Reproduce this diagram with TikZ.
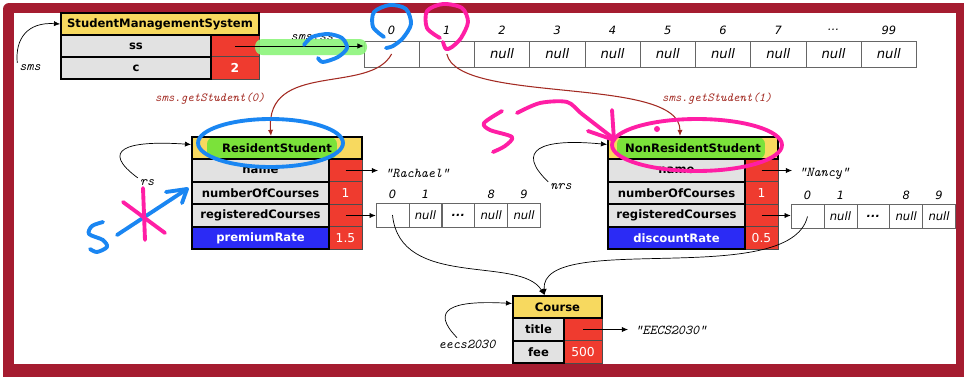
\documentclass[tikz,border=0pt]{standalone}
\usepackage{fontspec}
\setmainfont{DejaVu Sans}
\usetikzlibrary{arrows.meta}

\definecolor{framered}{HTML}{A51C30}
\definecolor{hdryellow}{HTML}{F7D95F}
\definecolor{keygrey}{HTML}{E2E2E2}
\definecolor{valred}{HTML}{EF3B2F}
\definecolor{rateblue}{HTML}{2B2BF5}
\definecolor{refred}{HTML}{A32A22}
\definecolor{penblue}{HTML}{1A86F2}
\definecolor{penpink}{HTML}{FF1EA5}
\definecolor{hlgreen}{HTML}{7BE23A}
\definecolor{ssgreen}{HTML}{8CF57A}

\newcommand\hdrfont{\fontsize{6.6}{8}\selectfont\bfseries}
\newcommand\valfont{\fontsize{7}{8}\selectfont}
\newcommand\varfont{\fontsize{7.7}{9}\selectfont\ttfamily\itshape}
\newcommand\getfont{\fontsize{7}{8}\selectfont\ttfamily\itshape}

\tikzset{
  hdr/.style={draw, line width=1.1pt, fill=hdryellow, font=\hdrfont, inner sep=0pt, minimum height=0.44cm},
  key/.style={draw, line width=1.1pt, fill=keygrey, font=\hdrfont, inner sep=0pt, minimum height=0.45cm},
  val/.style={draw=black!70, line width=0.3pt, fill=valred, text=white, font=\valfont, inner sep=0pt, minimum height=0.45cm},
  cell/.style={draw=black!60, line width=0.4pt, fill=white, inner sep=0pt, font=\fontsize{7.5}{9}\selectfont\itshape},
  smallcell/.style={cell, minimum width=0.658cm, minimum height=0.48cm, font=\fontsize{6.6}{8}\selectfont\itshape},
  idx/.style={font=\fontsize{6.5}{8}\selectfont\itshape, inner sep=0pt},
  var/.style={font=\varfont, inner sep=1pt},
  ptr/.style={-{Latex[length=3.5pt,width=3pt]}, line width=0.4pt},
  getref/.style={ptr, draw=refred, line width=0.6pt},
  pen/.style={line width=2.2pt, line cap=round, line join=round},
}

\begin{document}
\begin{tikzpicture}[x=0.02cm, y=-0.02cm]
  \useasboundingbox (0,0) rectangle (964,376);
  \fill[framered, rounded corners=0.12cm] (3,3) rectangle (972,384);
  \fill[white] (14,13) rectangle (956,364);

  % sms object
  \node[val, minimum width=0.96cm] (sms-ss-v) at (235,46) {};
  \node[val, minimum width=0.96cm, font=\valfont\bfseries] (sms-c-v) at (235,68) {2};
  \node[key, minimum width=3cm] (sms-ss) at (136,46) {ss};
  \node[key, minimum width=3cm] (sms-c) at (136,68) {c};
  \node[hdr, minimum width=3.96cm] (sms-hdr) at (160,24) {StudentManagementSystem};

  % array of students
  \foreach \i/\lab/\txt in {0/0/,1/1/,2/2/null,3/3/null,4/4/null,5/5/null,6/6/null,7/7/null,8/\ldots/null,9/99/null}{
    \node[cell, minimum width=1.105cm, minimum height=0.52cm] (arr\i) at ({391.6+55.25*\i},54) {\txt};
    \node[idx] (arr\i-i) at ({391.6+55.25*\i},30) {\lab};
  }

  % student objects
  \foreach \ox/\o/\cls/\rate/\rv/\gl/\gr in {192/rs/ResidentStudent/premiumRate/1.5/0.3/0.5,608/nrs/NonResidentStudent/discountRate/0.5/0.18/0.26}{
    \node[val, minimum width=0.66cm] (\o-name-v) at ({\ox+153.5},170.5) {};
    \node[val, minimum width=0.66cm] (\o-num-v) at ({\ox+153.5},193) {1};
    \node[val, minimum width=0.66cm] (\o-reg-v) at ({\ox+153.5},215.5) {};
    \node[val, minimum width=0.66cm] (\o-rate-v) at ({\ox+153.5},238) {\rv};
    \node[key, minimum width=2.74cm] (\o-name) at ({\ox+68.5},170.5) {name};
    \node[key, minimum width=2.74cm] (\o-num) at ({\ox+68.5},193) {numberOfCourses};
    \node[key, minimum width=2.74cm] (\o-reg) at ({\ox+68.5},215.5) {registeredCourses};
    \node[key, minimum width=2.74cm, fill=rateblue, text=white] (\o-rate) at ({\ox+68.5},238) {\rate};
    \node[hdr, minimum width=3.4cm, path picture={
      \fill[hlgreen, rounded corners=4pt] ([xshift=\gl cm]path picture bounding box.south west)
        rectangle ([xshift=-\gr cm]path picture bounding box.north east);}] (\o-hdr) at ({\ox+85},148) {\cls};
  }

  % course arrays
  \foreach \i/\lab/\txt in {0/0/,1/1/null,2//\textbf{...},3/8/null,4/9/null}{
    \node[smallcell] (rsa\i) at ({392.5+32.9*\i},215) {\txt};
    \node[idx] (rsa\i-i) at ({392.5+32.9*\i},194) {\lab};
    \node[smallcell] (nrsa\i) at ({807.5+32.9*\i},216.5) {\txt};
    \node[idx] (nrsa\i-i) at ({807.5+32.9*\i},195) {\lab};
  }

  % course object
  \node[val, minimum width=0.76cm] (crs-title-v) at (583,329.5) {};
  \node[val, minimum width=0.76cm] (crs-fee-v) at (583,352) {500};
  \node[key, minimum width=1.02cm] (crs-title) at (538.5,329.5) {title};
  \node[key, minimum width=1.02cm] (crs-fee) at (538.5,352) {fee};
  \node[hdr, minimum width=1.78cm] (crs-hdr) at (557.5,307) {Course};

  % variables and strings
  \node[var] (smsl) at (30,68) {sms};
  \node[var] (rsl) at (147,183) {rs};
  \node[var] (nrsl) at (561,187) {nrs};
  \node[var] (eecsl) at (467,344) {eecs2030};
  \node[var] (ssl) at (312,38) {sms.ss};
  \node[var, text=refred, font=\getfont] (get0) at (210,99) {sms.getStudent(0)};
  \node[var, text=refred, font=\getfont] (get1) at (717,99) {sms.getStudent(1)};
  \node[var, anchor=west, inner sep=4pt] (rachael) at (378,173) {“Rachael”};
  \node[var, anchor=west, inner sep=4pt] (nancy) at (792,174) {“Nancy”};
  \node[var, anchor=west, inner sep=4pt] (eecsstr) at (628,330) {“EECS2030”};

  \fill[ssgreen, opacity=0.9, rounded corners=0.15cm] (255,39) rectangle (367,55);

  \draw[ptr] (smsl.north west) .. controls (15,38) and (28,22) .. (sms-hdr.west);
  \draw[ptr] (sms-ss-v.center) -- (sms-ss-v.center -| arr0.west);
  \draw[ptr] (rsl.north west) .. controls (100,150) and (125,140) .. ([yshift=2pt]rs-hdr.west);
  \draw[ptr] (nrsl.north west) .. controls (515,150) and (540,138) .. ([yshift=2pt]nrs-hdr.west);
  \draw[ptr] ([xshift=-0.2cm]eecsl.north) .. controls (430,310) and (450,300) .. ([yshift=2pt]crs-hdr.west);
  \draw[getref] (arr0.center) .. controls (370,95) and (265,60) .. ([xshift=-0.12cm]rs-hdr.north);
  \draw[getref] (arr1.center) .. controls (458,105) and (680,75) .. ([xshift=-0.26cm]nrs-hdr.north);
  \draw[ptr] (rs-name-v.center) -- (rs-name-v.center -| rachael.west);
  \draw[ptr] (nrs-name-v.center) -- (nrs-name-v.center -| nancy.west);
  \draw[ptr] (rs-reg-v.center) -- (rs-reg-v.center -| rsa0.west);
  \draw[ptr] (nrs-reg-v.center) -- (nrs-reg-v.center -| nrsa0.west);
  \draw[ptr] (crs-title-v.center) -- (crs-title-v.center -| eecsstr.west);
  \draw[ptr] (rsa0.center) .. controls (400,290) and (520,255) .. ([xshift=-0.26cm]crs-hdr.north);
  \draw[ptr] (nrsa0.center) .. controls (790,290) and (540,230) .. ([xshift=-0.26cm]crs-hdr.north);

  % pen marks
  \draw[pen, penblue] plot[smooth] coordinates {(384,37) (373,27) (374,12) (390,5) (406,9) (411,24) (403,38) (393,46) (386,48)};
  \draw[pen, penpink] plot[smooth] coordinates {(440,38) (427,28) (427,11) (443,4) (462,8) (468,22) (461,38) (452,47) (446,49) (443,42)};
  \draw[pen, penblue] plot[smooth] coordinates {(304,45) (312,37) (328,34) (342,38) (347,48) (338,57) (323,62) (318,58)};
  \draw[pen, penblue] (270.5,143) ellipse [x radius=1.45cm, y radius=0.48cm];
  \draw[pen, penpink] (697,145) ellipse [x radius=1.7cm, y radius=0.52cm];
  \fill[penpink] (657,129) circle (0.06cm);
  \draw[pen, penpink] plot[smooth] coordinates {(502,111) (484,123) (490,130) (512,137) (505,146) (493,152)};
  \draw[pen, penpink] plot[smooth] coordinates {(517,113) (540,103) (567,102) (582,114) (613,138)};
  \draw[pen, penpink] (612,110) -- (614,140) -- (588,131);
  \draw[pen, penblue] plot[smooth] coordinates {(103,222) (92,226) (89,234) (103,240) (107,247) (97,252) (90,249)};
  \draw[pen, penblue] (117,235) -- (187,189);
  \draw[pen, penblue] (166,192) -- (187,189) -- (182,203);
  \draw[pen, penpink] (143,188) -- (145,240);
  \draw[pen, penpink] (123,202) -- (165,233);
\end{tikzpicture}
\end{document}
